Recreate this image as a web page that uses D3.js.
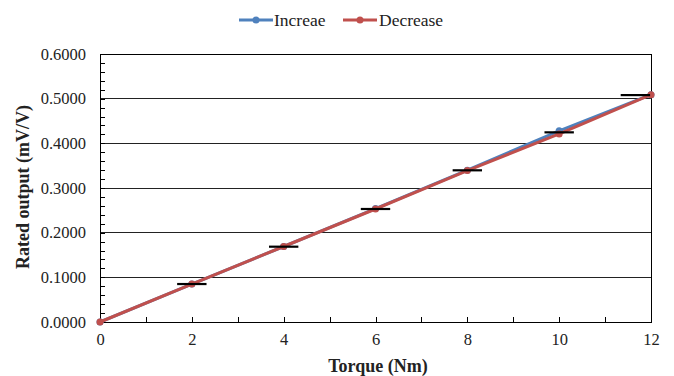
<!DOCTYPE html>
<html><head><meta charset="utf-8">
<script src="https://cdn.jsdelivr.net/npm/d3@7/dist/d3.min.js"></script>
<style>body{margin:0;background:#fff}svg{display:block}</style>
</head><body><svg id="c" width="674" height="376"></svg>
<script>
const torque = [0, 2, 4, 6, 8, 10, 12];
const increase = [0.0000, 0.0850, 0.1690, 0.2540, 0.3400, 0.4280, 0.5090];
const decrease = [0.0000, 0.0850, 0.1690, 0.2530, 0.3390, 0.4210, 0.5090];
const errCenterX = [2, 4, 6, 8, 10, 11.66];
const errY = [0.0850, 0.1686, 0.2530, 0.3396, 0.4246, 0.5080];
const errHalfWidth = 0.32;
const xTicks = [0, 2, 4, 6, 8, 10, 12];
const yTicks = [0, 0.1, 0.2, 0.3, 0.4, 0.5, 0.6];
const seriesNames = ["Increae", "Decrease"];
const colors = ["#4F81BD", "#C0504D"];

const svg = d3.select("#c");
const font = "'Liberation Serif','Times New Roman',serif";
const x = d3.scaleLinear().domain([0, 12]).range([100, 651]);
const y = d3.scaleLinear().domain([0, 0.6]).range([322, 54]);

// gridlines
svg.append("g").selectAll("line").data(yTicks.slice(1)).join("line")
  .attr("x1", x(0)).attr("x2", x(12)).attr("y1", d => y(d)).attr("y2", d => y(d))
  .attr("stroke", "#222").attr("stroke-width", 1).attr("shape-rendering", "crispEdges");

// frame
svg.append("rect").attr("x", x(0)).attr("y", y(0.6)).attr("width", x(12) - x(0)).attr("height", y(0) - y(0.6))
  .attr("fill", "none").attr("stroke", "#000").attr("stroke-width", 1).attr("shape-rendering", "crispEdges");

// y minor ticks (inside)
const yMinor = d3.range(0, 0.6001, 0.02);
svg.append("g").selectAll("line").data(yMinor).join("line")
  .attr("x1", x(0)).attr("x2", x(0) + 5).attr("y1", d => Math.round(y(d)) + 0.5).attr("y2", d => Math.round(y(d)) + 0.5)
  .attr("stroke", "#000");

// x ticks (inside)
svg.append("g").selectAll("line").data(d3.range(0, 13, 1)).join("line")
  .attr("x1", d => Math.round(x(d)) + 0.5).attr("x2", d => Math.round(x(d)) + 0.5)
  .attr("y1", y(0)).attr("y2", y(0) - 5).attr("stroke", "#000");

const yAxis = svg.append("g").attr("transform", `translate(${x(0)},0)`)
  .call(d3.axisLeft(y).tickValues(yTicks).tickFormat(d3.format(".4f")).tickSize(0).tickPadding(14));
yAxis.select(".domain").remove();
yAxis.selectAll("text").attr("font-family", font).attr("font-size", 16.5).attr("fill", "#222");

const xAxis = svg.append("g").attr("transform", `translate(0,${y(0)})`)
  .call(d3.axisBottom(x).tickValues(xTicks).tickFormat(d3.format("d")).tickSize(0).tickPadding(11));
xAxis.select(".domain").remove();
xAxis.selectAll("text").attr("font-family", font).attr("font-size", 16.5).attr("fill", "#222");

svg.append("text").attr("x", 378).attr("y", 372).attr("text-anchor", "middle")
  .attr("font-family", font).attr("font-size", 18).attr("font-weight", "bold").attr("fill", "#222")
  .text("Torque (Nm)");
svg.append("text").attr("transform", "translate(29,187) rotate(-90)").attr("text-anchor", "middle")
  .attr("font-family", font).attr("font-size", 18).attr("font-weight", "bold").attr("fill", "#222")
  .text("Rated output (mV/V)");

const line = d3.line().x((d, i) => x(torque[i])).y(d => y(d));
[increase, decrease].forEach((vals, k) => {
  svg.append("path").datum(vals).attr("d", line).attr("fill", "none")
    .attr("stroke", colors[k]).attr("stroke-width", 3).attr("stroke-linejoin", "round");
  svg.append("g").selectAll("circle").data(vals).join("circle")
    .attr("cx", (d, i) => x(torque[i])).attr("cy", d => y(d)).attr("r", 3.5).attr("fill", colors[k]);
});

svg.append("g").selectAll("line").data(errY).join("line")
  .attr("x1", (d, i) => x(errCenterX[i] - errHalfWidth)).attr("x2", (d, i) => x(errCenterX[i] + errHalfWidth))
  .attr("y1", d => y(d)).attr("y2", d => y(d)).attr("stroke", "#000").attr("stroke-width", 2.2);

const leg = svg.append("g");
const legItems = [{x0: 239, tx: 274}, {x0: 343, tx: 379}];
seriesNames.forEach((n, k) => {
  const L = legItems[k];
  leg.append("line").attr("x1", L.x0).attr("x2", L.x0 + 34).attr("y1", 20).attr("y2", 20)
    .attr("stroke", colors[k]).attr("stroke-width", 3);
  leg.append("circle").attr("cx", L.x0 + 17).attr("cy", 20).attr("r", 3.5).attr("fill", colors[k]);
  leg.append("text").attr("x", L.tx).attr("y", 26).attr("font-family", font).attr("font-size", 17.5)
    .attr("fill", "#222").text(n);
});
</script></body></html>
